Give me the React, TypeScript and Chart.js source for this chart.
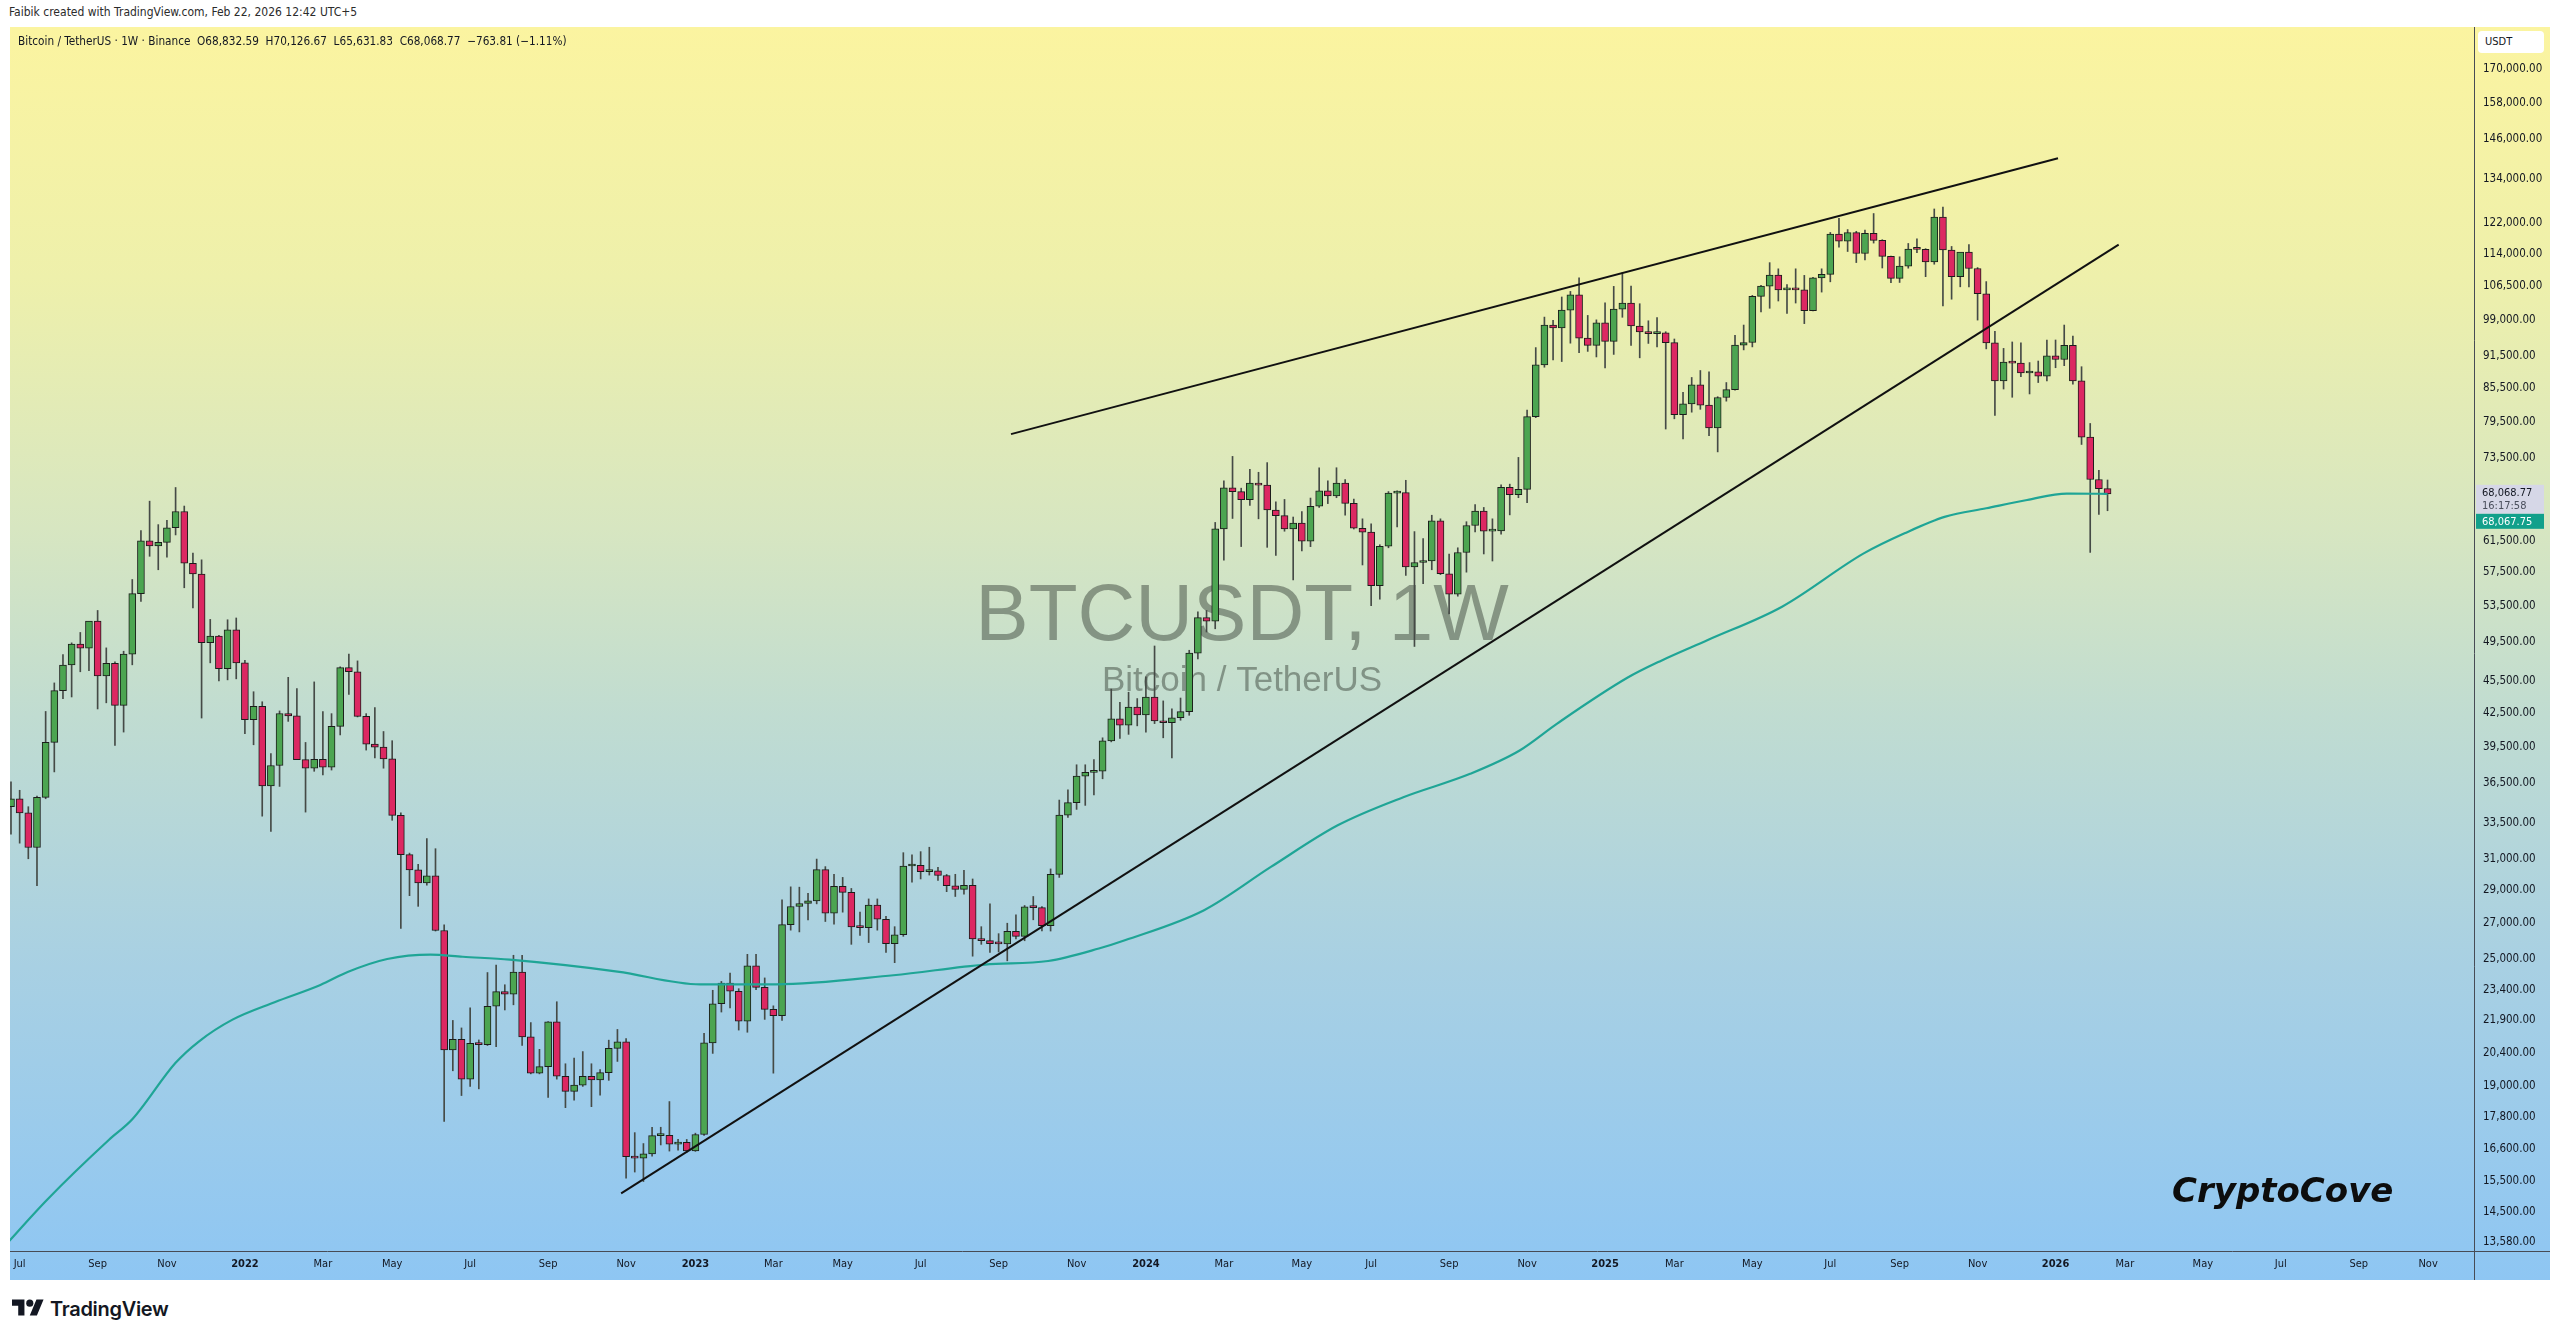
import React, { useEffect, useRef } from "react";
import { Chart, registerables } from "chart.js";

Chart.register(...registerables);

// ---------------- DATA ----------------
const FIRST_WEEK = "2021-06-28"; // Monday of the first weekly candle

// weekly candles [open, high, low, close]
const ohlc2021: number[][] = [
  [34700, 36600, 32700, 35290], [35290, 35950, 32080, 34240], [34240, 34700, 31020, 31780],
  [31780, 35500, 29280, 35400], [35400, 42600, 35300, 39850], [39850, 45300, 37400, 44550],
  [44550, 48150, 43800, 47080], [47080, 49380, 43950, 49250], [49250, 50500, 46400, 48830],
  [48830, 51000, 46500, 51750], [51750, 52950, 42830, 46000], [46000, 48850, 43400, 47260],
  [47260, 47400, 39600, 43160], [43160, 48500, 40750, 48200], [48200, 56600, 47100, 54900],
  [54900, 62900, 54000, 61530], [61530, 67000, 59500, 60850], [60850, 63700, 57800, 61300],
  [61300, 64300, 59400, 63270], [63270, 69000, 62300, 65520], [65520, 66300, 55600, 58620],
  [58620, 59900, 53250, 57270], [57270, 59050, 42000, 49400], [49400, 51940, 47300, 50100],
  [50100, 50200, 45500, 46700], [46700, 51900, 45600, 50800], [50800, 52100, 45700, 47300],
];
const ohlc2022: number[][] = [
  [47300, 47550, 40600, 41860], [41860, 44450, 39650, 43080], [43080, 43500, 34000, 36280],
  [36280, 38900, 32900, 37920], [37920, 42650, 36250, 42410], [42410, 45850, 41700, 42200],
  [42200, 44750, 39450, 38400], [38400, 39850, 34300, 37700], [37700, 45400, 37450, 38420],
  [38420, 42600, 37150, 37780], [37780, 42400, 37550, 41260], [41260, 46900, 40500, 46820],
  [46820, 48200, 44200, 46400], [46400, 47500, 42100, 42150], [42150, 42400, 39200, 39700],
  [39700, 42950, 38550, 39450], [39450, 40800, 37700, 38470], [38470, 40000, 33700, 34060],
  [34060, 34250, 26700, 31300], [31300, 31400, 28650, 30290], [30290, 30650, 28000, 29450],
  [29450, 32400, 29300, 29900], [29900, 31700, 26550, 26580], [26580, 26900, 17620, 20550],
  [20550, 21900, 19650, 21030], [21030, 21550, 18630, 19300], [19300, 22500, 19000, 20850],
  [20850, 21000, 18900, 20790], [20790, 24280, 20750, 22580], [22580, 24670, 20700, 23300],
  [23300, 23650, 22400, 23175], [23175, 25200, 22650, 24300], [24300, 25200, 20750, 21140],
  [21140, 21800, 19520, 19550], [19550, 20580, 19520, 19830], [19830, 21850, 18550, 21830],
  [21830, 22800, 19300, 19420], [19420, 19950, 18150, 18800], [18800, 20200, 18450, 19050],
  [19050, 20480, 19000, 19420], [19420, 19950, 18190, 19270], [19270, 19700, 18650, 19570],
  [19570, 20990, 19250, 20620], [20620, 21480, 20050, 20920], [20920, 21060, 15590, 16330],
  [16330, 17200, 15800, 16280], [16280, 16800, 15480, 16430], [16430, 17400, 16350, 17090],
  [17090, 17400, 16750, 17100], [17100, 18390, 16530, 16780], [16780, 16950, 16560, 16840],
  [16840, 16950, 16490, 16540],
];
const ohlc2023: number[][] = [
  [16540, 17180, 16520, 17130], [17130, 21300, 17100, 20870], [20870, 23370, 20400, 22700],
  [22700, 23820, 22300, 23740], [23740, 24250, 22500, 23320], [23320, 23450, 21450, 21860],
  [21860, 25250, 21350, 24630], [24630, 25250, 23400, 23520], [23520, 24000, 21950, 22430],
  [22430, 22600, 19550, 22130], [22130, 28400, 21900, 26920], [26920, 29200, 26600, 27990],
  [27990, 29180, 26500, 28170], [28170, 28800, 27200, 28330], [28330, 31000, 28150, 30300],
  [30300, 30500, 27100, 27590], [27590, 30000, 26950, 29230], [29230, 29800, 27650, 28850],
  [28850, 29100, 25800, 26780], [26780, 27650, 26300, 26750], [26750, 28450, 25900, 28070],
  [28070, 28450, 26600, 27230], [27230, 27400, 25350, 25840], [25840, 26800, 24800, 26340],
  [26340, 31430, 26250, 30540], [30540, 31280, 29500, 30590], [30590, 31500, 29700, 30170],
  [30170, 31800, 29950, 30230], [30230, 30450, 29600, 29920], [29920, 29990, 28900, 29270],
  [29270, 30000, 28600, 29040], [29040, 30250, 28750, 29290], [29290, 29700, 25150, 26100],
  [26100, 26800, 25800, 26010], [26010, 28150, 25350, 25840], [25840, 26400, 25380, 25830],
  [25830, 27000, 24900, 26530], [26530, 27500, 26100, 26250], [26250, 28050, 26000, 27970],
  [27970, 28600, 27200, 27920], [27920, 27990, 26550, 26860], [26860, 30350, 26550, 29990],
  [29990, 35200, 29800, 34080], [34080, 35980, 33900, 35010], [35010, 37980, 34500, 37060],
  [37060, 37980, 34800, 37360], [37360, 38400, 35600, 37450], [37450, 40250, 36850, 39980],
  [39980, 44700, 39900, 41920], [41920, 43450, 40200, 41360], [41360, 44400, 40550, 43010],
  [43010, 43800, 41300, 42280],
];
const ohlc2024: number[][] = [
  [42280, 45900, 40750, 43950], [43950, 49050, 41500, 41730], [41730, 43580, 40250, 41580],
  [41580, 42850, 38550, 42030], [42030, 43850, 41800, 42580], [42580, 48600, 42250, 48300],
  [48300, 52800, 47700, 52140], [52140, 52950, 50550, 51730], [51730, 64000, 50900, 63110],
  [63110, 69990, 59000, 68950], [68950, 73780, 64550, 68390], [68390, 68900, 60760, 67210],
  [67210, 71770, 66400, 69650], [69650, 71300, 64500, 69360], [69360, 72800, 60660, 65740],
  [65740, 66900, 59600, 64940], [64940, 67250, 62800, 63120], [63120, 64750, 56550, 63900],
  [63900, 65500, 60200, 61480], [61480, 67450, 60750, 66270], [66270, 71980, 66100, 68510],
  [68510, 70000, 66650, 67770], [67770, 72000, 67500, 69650], [69650, 70200, 65000, 66680],
  [66680, 67300, 63100, 63210], [63210, 64500, 58400, 62680], [62680, 63800, 53500, 55850],
  [55850, 61000, 54250, 60800], [60800, 68400, 60600, 68160], [68160, 68500, 63400, 68250],
  [68250, 70080, 57100, 58160], [58160, 62750, 49000, 58710], [58710, 61800, 56100, 58900],
  [58900, 65000, 57800, 64220], [64220, 64500, 57200, 57300], [57300, 59800, 52550, 54840],
  [54840, 60600, 54600, 59990], [59990, 64100, 57500, 63580], [63580, 66500, 62700, 65600],
  [65600, 66100, 59800, 62820], [62820, 64500, 58900, 62850], [62850, 69400, 62400, 69030],
  [69030, 69500, 65050, 67940], [67940, 73620, 67500, 68730], [68730, 81500, 66800, 80370],
  [80370, 93260, 80200, 89850], [89850, 99590, 89400, 97900], [97900, 98900, 90800, 97280],
  [97280, 104000, 90500, 101110], [101110, 105250, 94150, 104460], [104460, 108350, 92250, 95190],
  [95190, 99950, 92500, 93720], [93720, 99000, 91400, 98360],
];
const ohlc2025: number[][] = [
  [98360, 102700, 89250, 94520], [94520, 106400, 91900, 101330], [101330, 109590, 99550, 102620],
  [102620, 106460, 93700, 97700], [97700, 102500, 91230, 96460], [96460, 98800, 94100, 96120],
  [96120, 99500, 93400, 96250], [96250, 96500, 78260, 94270], [94270, 95000, 80000, 80730],
  [80730, 84700, 76600, 82610], [82610, 87450, 81150, 86080], [86080, 88770, 81650, 82390],
  [82390, 88500, 77150, 78430], [78430, 83900, 74500, 83760], [83760, 86500, 83100, 85180],
  [85180, 95750, 85100, 93750], [93750, 97900, 92800, 94280], [94280, 104350, 93400, 104120],
  [104120, 106660, 100700, 106450], [106450, 111980, 101500, 109000], [109000, 110500, 103100, 105600],
  [105600, 106800, 100370, 105730], [105730, 110500, 102650, 105600], [105600, 108950, 98200, 100960],
  [100960, 108500, 100900, 108360], [108360, 110500, 105100, 109200], [109200, 119500, 107450, 119090],
  [119090, 123200, 115750, 117270], [117270, 120250, 114700, 119450], [119450, 119800, 112000, 114200],
  [114200, 120100, 112650, 119300], [119300, 124470, 116800, 117480], [117480, 117650, 110700, 113490],
  [113490, 113600, 107250, 108250], [108250, 113400, 107300, 111140], [111140, 116700, 110650, 115270],
  [115270, 117900, 114400, 115230], [115230, 115400, 108650, 112160], [112160, 125700, 111600, 123500],
  [123500, 126200, 102000, 115070], [115070, 115950, 103500, 108640], [108640, 114000, 106300, 114550],
  [114550, 116400, 106300, 110580], [110580, 110800, 98950, 104720], [104720, 107500, 93000, 94200],
  [94200, 96600, 80600, 86800], [86800, 93100, 85300, 90400], [90400, 94400, 83800, 90200],
  [90200, 94200, 87600, 88300], [88300, 90300, 84400, 88500], [88500, 90600, 86500, 87700],
  [87700, 94800, 86800, 91600],
];
const ohlc2026: number[][] = [
  [91600, 94800, 89300, 90900], [90900, 97900, 89700, 93700], [93700, 95600, 86200, 86800],
  [86800, 89500, 75700, 76900], [76900, 79200, 60000, 70200], [70200, 71600, 65100, 68832.59],
  [68832.59, 70126.67, 65631.83, 68068.77],
];

// moving average (teal line)
const maDates = [
  "2021-06-21", "2021-07-27", "2021-09-15", "2021-10-04", "2021-11-08", "2021-11-27", "2021-12-24",
  "2022-01-27", "2022-03-05", "2022-03-27", "2022-04-28", "2022-06-02", "2022-06-28", "2022-08-05",
  "2022-10-31", "2023-01-06", "2023-03-08", "2023-06-11", "2023-08-24", "2023-10-14", "2023-11-24",
  "2023-12-15", "2024-02-17", "2024-04-11", "2024-06-04", "2024-07-27", "2024-09-19", "2024-10-29",
  "2024-11-28", "2025-01-24", "2025-02-20", "2025-03-30", "2025-05-29", "2025-08-03", "2025-09-05",
  "2025-10-08", "2025-11-10", "2025-12-13", "2026-01-14", "2026-02-16",
];
const maValues = [
  13400, 14880, 16930, 17700, 19990, 20940, 21940,
  22780, 23640, 24310, 25000, 25240, 25120, 24960,
  24330, 23670, 23670, 24140, 24700, 24890, 25570,
  26030, 27770, 30480, 33340, 35420, 37250, 39170,
  41480, 45800, 47500, 49680, 53380, 59870, 62520,
  64800, 65980, 67170, 68100, 68067.75,
];

const upperTrendDates = ["2023-09-14", "2026-01-07"];
const upperTrendValues = [77400, 140200];
const lowerTrendDates = ["2022-11-03", "2026-02-25"];
const lowerTrendValues = [15090, 116400];

const priceTicks = [
  13580, 14500, 15500, 16600, 17800, 19000, 20400, 21900, 23400, 25000, 27000, 29000, 31000,
  33500, 36500, 39500, 42500, 45500, 49500, 53500, 57500, 61500, 73500, 79500, 85500, 91500,
  99000, 106500, 114000, 122000, 134000, 146000, 158000, 170000,
];
const monthNames = ["Jan", "Feb", "Mar", "Apr", "May", "Jun", "Jul", "Aug", "Sep", "Oct", "Nov", "Dec"];
const labelMonths = [0, 2, 4, 6, 8, 10];
const labelYears = [2021, 2022, 2023, 2024, 2025, 2026];

const lastClose = 68068.77;
const maCurrent = 68067.75;
const barCountdown = "16:17:58";

// ---------------- HELPERS ----------------
const DAY0 = Date.UTC(2022, 0, 3);
const MS_DAY = 86400000;
const toDay = (s: string) => (Date.parse(s + "T00:00:00Z") - DAY0) / MS_DAY;
const X_MIN = -189.8;
const X_MAX = 1801.1;
const Y_MIN = 13330;
const Y_MAX = 186000;

const AXIS_FONT = '"DejaVu Sans Condensed", "Liberation Sans", Arial, sans-serif';
const UP = "#4ca551";
const DOWN = "#dc2862";
const WICK = "#454a46";
const OUTLINE = "#1b1d1b";

const fmtPrice = (v: number) =>
  Number(v).toLocaleString("en-US", { minimumFractionDigits: 2, maximumFractionDigits: 2 });

function firstMonday(y: number, m: number): number {
  let t = Date.UTC(y, m, 1);
  while (new Date(t).getUTCDay() !== 1) t += MS_DAY;
  return (t - DAY0) / MS_DAY;
}

const xTicks: { day: number; label: string; year: boolean }[] = [];
labelYears.forEach((y) =>
  labelMonths.forEach((m) => {
    const d = firstMonday(y, m);
    if (d >= X_MIN && d <= X_MAX) xTicks.push({ day: d, label: m === 0 ? String(y) : monthNames[m], year: m === 0 });
  })
);
const xLabelMap = new Map(xTicks.map((t) => [t.day, t]));

const allCandles = [...ohlc2021, ...ohlc2022, ...ohlc2023, ...ohlc2024, ...ohlc2025, ...ohlc2026];
const firstDay = toDay(FIRST_WEEK);

const overlayPlugin = {
  id: "tvOverlay",
  beforeDatasetsDraw(chart: any) {
    const { ctx, chartArea } = chart;
    ctx.save();
    ctx.beginPath();
    ctx.rect(chartArea.left, chartArea.top, chartArea.right - chartArea.left, chartArea.bottom - chartArea.top);
    ctx.clip();
    ctx.fillStyle = "rgba(62,72,62,0.5)";
    ctx.textAlign = "center";
    ctx.textBaseline = "alphabetic";
    ctx.font = '80px "Liberation Sans", Arial, sans-serif';
    ctx.fillText("BTCUSDT, 1W", 1232, 613);
    ctx.font = '35px "Liberation Sans", Arial, sans-serif';
    ctx.fillText("Bitcoin / TetherUS", 1232, 664);
    ctx.restore();
  },
  afterDraw(chart: any) {
    const { ctx, chartArea, width, height } = chart;
    const yScale = chart.scales.y;
    ctx.save();
    // axis lines
    ctx.strokeStyle = "#474b55";
    ctx.lineWidth = 1;
    ctx.beginPath();
    ctx.moveTo(Math.round(chartArea.right) + 0.5, 0);
    ctx.lineTo(Math.round(chartArea.right) + 0.5, height);
    ctx.moveTo(0, Math.round(chartArea.bottom) + 0.5);
    ctx.lineTo(width, Math.round(chartArea.bottom) + 0.5);
    ctx.stroke();
    // last price label
    const y = yScale.getPixelForValue(lastClose);
    const x0 = chartArea.right + 2;
    ctx.fillStyle = "#d6d7e7";
    ctx.fillRect(x0, y - 9, 68, 29);
    ctx.font = `11px ${AXIS_FONT}`;
    ctx.textBaseline = "middle";
    ctx.textAlign = "left";
    ctx.fillStyle = "#131722";
    ctx.fillText(fmtPrice(lastClose), x0 + 6, y - 1);
    ctx.fillStyle = "#4a4f5c";
    ctx.fillText(barCountdown, x0 + 6, y + 12);
    // MA value label
    ctx.fillStyle = "#12a08b";
    ctx.fillRect(x0, y + 20, 68, 15);
    ctx.fillStyle = "#ffffff";
    ctx.fillText(fmtPrice(maCurrent), x0 + 6, y + 28);
    ctx.restore();
  },
};

export default function App() {
  const canvasRef = useRef<HTMLCanvasElement | null>(null);

  useEffect(() => {
    document.body.style.margin = "0";
    const canvas = canvasRef.current;
    if (!canvas) return;

    const days = allCandles.map((_, i) => firstDay + 7 * i);
    const wickData = allCandles.map((c, i) => ({ x: days[i], y: [c[2], c[1]] }));
    const bodyData = allCandles.map((c, i) => ({ x: days[i], y: [Math.min(c[0], c[3]), Math.max(c[0], c[3])] }));
    const bodyColors = allCandles.map((c) => (c[3] >= c[0] ? UP : DOWN));
    const maData = maDates.map((d, i) => ({ x: toDay(d), y: maValues[i] }));
    const upperData = upperTrendDates.map((d, i) => ({ x: toDay(d), y: upperTrendValues[i] }));
    const lowerData = lowerTrendDates.map((d, i) => ({ x: toDay(d), y: lowerTrendValues[i] }));

    const chart = new Chart(canvas, {
      type: "bar",
      data: {
        datasets: [
          {
            type: "bar",
            label: "wicks",
            data: wickData as any,
            backgroundColor: WICK,
            barThickness: 1,
            grouped: false,
            minBarLength: 1,
            order: 4,
          } as any,
          {
            type: "bar",
            label: "bodies",
            data: bodyData as any,
            backgroundColor: bodyColors,
            borderColor: OUTLINE,
            borderWidth: 1,
            borderSkipped: false,
            barThickness: 7,
            grouped: false,
            minBarLength: 2,
            order: 3,
          } as any,
          {
            type: "line",
            label: "MA",
            data: maData as any,
            borderColor: "#1fa596",
            borderWidth: 2.2,
            pointRadius: 0,
            cubicInterpolationMode: "monotone",
            order: 2,
          } as any,
          {
            type: "line",
            label: "upper",
            data: upperData as any,
            borderColor: "#111111",
            borderWidth: 2,
            pointRadius: 0,
            order: 1,
          } as any,
          {
            type: "line",
            label: "lower",
            data: lowerData as any,
            borderColor: "#111111",
            borderWidth: 2,
            pointRadius: 0,
            order: 0,
          } as any,
        ],
      },
      options: {
        responsive: false,
        animation: false,
        devicePixelRatio: 1,
        events: [],
        layout: { padding: 0 },
        plugins: { legend: { display: false }, tooltip: { enabled: false } },
        scales: {
          x: {
            type: "linear",
            min: X_MIN,
            max: X_MAX,
            offset: false,
            grid: { display: false, drawTicks: false, tickLength: 0 },
            border: { display: false },
            afterBuildTicks: (s: any) => {
              s.ticks = xTicks.map((t) => ({ value: t.day }));
            },
            afterFit: (s: any) => {
              s.height = 29;
              s.paddingLeft = 0;
              s.paddingRight = 0;
              s.paddingTop = 0;
              s.paddingBottom = 0;
            },
            ticks: {
              autoSkip: false,
              maxRotation: 0,
              padding: 7,
              color: "#131722",
              font: (ctx: any) => {
                const t = ctx.tick ? xLabelMap.get(ctx.tick.value) : undefined;
                return { family: AXIS_FONT, size: 11, weight: t && t.year ? "bold" : "normal" };
              },
              callback: (v: any) => {
                const t = xLabelMap.get(Number(v));
                return t ? t.label : "";
              },
            },
          } as any,
          y: {
            type: "logarithmic",
            position: "right",
            min: Y_MIN,
            max: Y_MAX,
            grid: { display: false, drawTicks: false, tickLength: 0 },
            border: { display: false },
            afterBuildTicks: (s: any) => {
              s.ticks = priceTicks.map((v) => ({ value: v }));
            },
            afterFit: (s: any) => {
              s.width = 76;
              s.paddingTop = 0;
              s.paddingBottom = 0;
              s.paddingLeft = 0;
              s.paddingRight = 0;
            },
            ticks: {
              autoSkip: false,
              padding: 9,
              color: "#131722",
              font: { family: AXIS_FONT, size: 11.5 },
              callback: (v: any) => fmtPrice(Number(v)),
            },
          } as any,
        },
      },
      plugins: [overlayPlugin],
    });
    return () => chart.destroy();
  }, []);

  return (
    <div
      style={{
        position: "relative",
        width: 2560,
        height: 1339,
        background: "#ffffff",
        overflow: "hidden",
        fontFamily: AXIS_FONT,
      }}
    >
      <div
        style={{
          position: "absolute",
          left: 9,
          top: 5,
          fontSize: 12,
          color: "#2b2b2b",
          whiteSpace: "pre",
        }}
      >
        Faibik created with TradingView.com, Feb 22, 2026 12:42 UTC+5
      </div>
      <div
        style={{
          position: "absolute",
          left: 10,
          top: 27,
          width: 2540,
          height: 1253,
          background:
            "linear-gradient(to bottom, #fbf4a0 0%, #eef0ab 20%, #d7e6c1 40%, #c0dcd1 55%, #a8d0e3 75%, #8ec6f3 100%)",
        }}
      />
      <canvas
        ref={canvasRef}
        width={2540}
        height={1253}
        style={{ position: "absolute", left: 10, top: 27, width: 2540, height: 1253 }}
      />
      <div
        style={{
          position: "absolute",
          left: 18,
          top: 34,
          fontSize: 11.7,
          color: "#131722",
          whiteSpace: "pre",
        }}
      >
        {"Bitcoin / TetherUS · 1W · Binance  O68,832.59  H70,126.67  L65,631.83  C68,068.77  −763.81 (−1.11%)"}
      </div>
      <div
        style={{
          position: "absolute",
          left: 2478,
          top: 31,
          width: 66,
          height: 22,
          background: "#ffffff",
          borderRadius: 4,
          fontSize: 11,
          color: "#131722",
          lineHeight: "22px",
          paddingLeft: 7,
          boxSizing: "border-box",
        }}
      >
        USDT
      </div>
      <div
        style={{
          position: "absolute",
          left: 2172,
          top: 1170,
          fontFamily: '"DejaVu Sans", Verdana, sans-serif',
          fontWeight: "bold",
          fontStyle: "italic",
          fontSize: 34,
          color: "#0d0d0d",
          whiteSpace: "pre",
        }}
      >
        CryptoCove
      </div>
      <div
        style={{
          position: "absolute",
          left: 12,
          top: 1296,
          display: "flex",
          alignItems: "center",
          gap: 6,
        }}
      >
        <svg width="32" height="25" viewBox="0 0 36 28">
          <path d="M14 22H7V11H0V4h14v18zM28 22h-8l7.5-18h8L28 22z" fill="#131722" />
          <circle cx="20" cy="8" r="4" fill="#131722" />
        </svg>
        <span
          style={{
            fontFamily: 'Inter, "Open Sans", Roboto, sans-serif',
            fontWeight: 600,
            fontSize: 20,
            color: "#131722",
            letterSpacing: -0.3,
          }}
        >
          TradingView
        </span>
      </div>
    </div>
  );
}
